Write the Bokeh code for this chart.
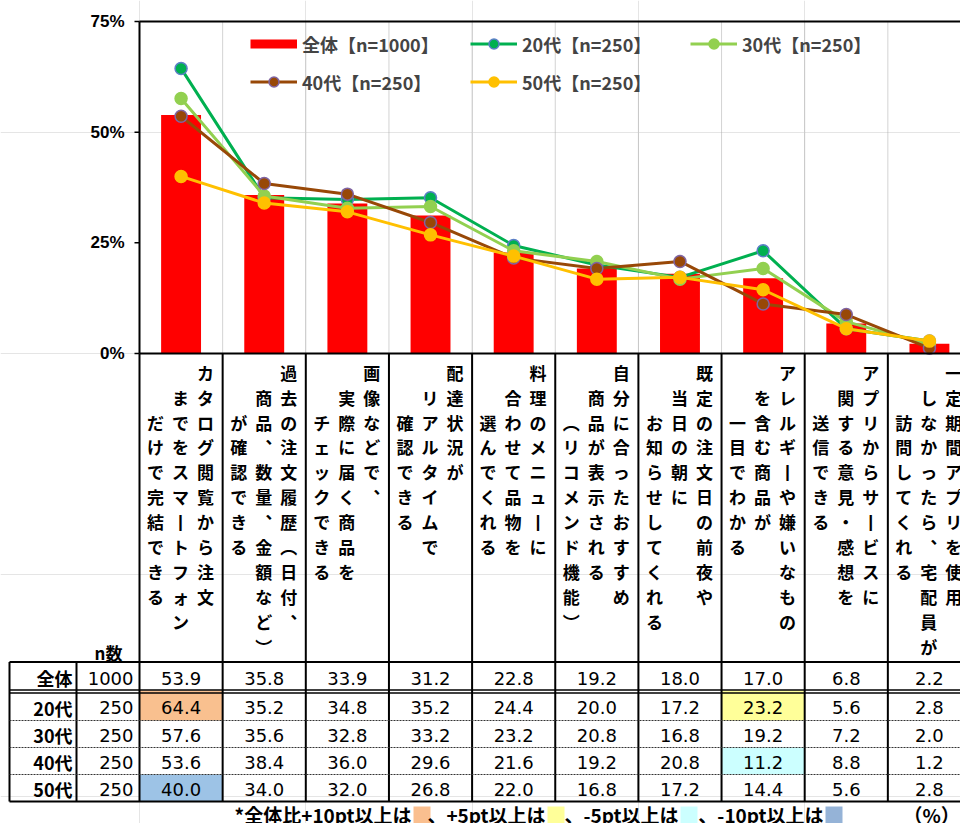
import numpy as np
from bokeh.plotting import figure
from bokeh.models import Range1d, Legend, LegendItem
from bokeh.core.properties import value
from bokeh.embed import file_html
from bokeh.resources import INLINE

# ---------------- data ----------------
# category labels, as they are broken into vertical columns (right to left)
label_columns = [
    ["カタログ閲覧から注文", "までをスマートフォン", "だけで完結できる"],
    ["過去の注文履歴（日付、", "商品、数量、金額など）", "が確認できる"],
    ["画像などで、", "実際に届く商品を", "チェックできる"],
    ["配達状況が", "リアルタイムで", "確認できる"],
    ["料理のメニューに", "合わせて品物を", "選んでくれる"],
    ["自分に合ったおすすめ", "商品が表示される", "（リコメンド機能）"],
    ["既定の注文日の前夜や", "当日の朝に", "お知らせしてくれる"],
    ["アレルギーや嫌いなもの", "を含む商品が", "一目でわかる"],
    ["アプリからサービスに", "関する意見・感想を", "送信できる"],
    ["一定期間アプリを使用", "しなかったら、宅配員が", "訪問してくれる"],
]
overall_name = "全体"
overall_n = 1000
overall = [53.9, 35.8, 33.9, 31.2, 22.8, 19.2, 18.0, 17.0, 6.8, 2.2]

group_names = ["20代", "30代", "40代", "50代"]
group_n = [250, 250, 250, 250]
age20 = [64.4, 35.2, 34.8, 35.2, 24.4, 20.0, 17.2, 23.2, 5.6, 2.8]
age30 = [57.6, 35.6, 32.8, 33.2, 23.2, 20.8, 16.8, 19.2, 7.2, 2.0]
age40 = [53.6, 38.4, 36.0, 29.6, 21.6, 19.2, 20.8, 11.2, 8.8, 1.2]
age50 = [40.0, 34.0, 32.0, 26.8, 22.0, 16.8, 17.2, 14.4, 5.6, 2.8]
group_values = [age20, age30, age40, age50]

y_ticks = [0, 25, 50, 75]
y_tick_labels = ["0%", "25%", "50%", "75%"]
n_header = "n数"
key_texts = ["*全体比+10pt以上は", "、+5pt以上は", "、-5pt以上は", "、-10pt以上は"]
key_thresholds = [10, 5, -5, -10]
unit_text = "（%）"

# ---------------- styles / layout ----------------
JP = "Noto Sans CJK JP"
NUM = "DejaVu Sans"
TICKF = "Liberation Sans"
BAR_COLOR = "#FF0000"
line_colors = ["#00B050", "#92D050", "#984807", "#FFC000"]
edge_colors = ["#5B7FC7", "#92D050", "#8064A2", "#FFC000"]
cell_colors = ["#F9C08F", "#FFFF99", "#CCFFFF", "#9DC3E6"]
key_colors = ["#FABF8F", "#FFFF99", "#CCFFFF", "#95B3D7"]

CW = 83.15            # category width (px)
X0 = 139              # page x of first category's left edge
Y0 = 353              # page y of the 0% line
PXP = 332 / 75        # px per percentage point
FIG_W, FIG_H = 960, 823

n_cat = len(overall)
xc = np.arange(n_cat) + 0.5


def ux(px):
    return (px - X0) / CW


def py(sy):
    return (Y0 - sy) / PXP


p = figure(width=FIG_W, height=FIG_H, x_range=Range1d(ux(0), ux(FIG_W)),
           y_range=Range1d(py(FIG_H), py(0)), output_backend="svg",
           toolbar_location=None, x_axis_location=None, y_axis_location=None,
           min_border_left=0, min_border_right=0, min_border_top=0,
           min_border_bottom=0, outline_line_color=None)

x_end = ux(980)
ymax = y_ticks[-1]

# ---- chart frame / axis ----
gx = np.arange(1, n_cat + 1)
p.segment(x0=gx, y0=[0] * len(gx), x1=gx, y1=[ymax] * len(gx),
          line_color="#A6A6A6", line_width=1, line_dash="1 1")
p.segment(x0=[0], y0=[ymax], x1=[x_end], y1=[ymax], line_color="black", line_width=2)
p.segment(x0=[0], y0=[0], x1=[0], y1=[ymax], line_color="black", line_width=2)
p.segment(x0=[ux(134)] * len(y_ticks), y0=y_ticks, x1=[0] * len(y_ticks), y1=y_ticks,
          line_color="black", line_width=1.5)
p.text(x=[ux(124)] * len(y_ticks), y=y_ticks, text=y_tick_labels, text_font=value(TICKF),
       text_font_size="17px", text_font_style="bold", text_align="right",
       text_baseline="middle", text_color="black")

# ---- bars and lines ----
p.vbar(x=xc, top=overall, width=0.48, fill_color=BAR_COLOR, line_color=None)
bar_proxy = p.line(x=np.array([np.nan]), y=np.array([np.nan]), line_color=BAR_COLOR,
                   line_width=9)

items = [LegendItem(label=value(f"{overall_name}【n={overall_n}】"), renderers=[bar_proxy])]
for name, n, vals, lc, ec in zip(group_names, group_n, group_values, line_colors, edge_colors):
    lr = p.line(xc, vals, line_color=lc, line_width=3)
    sr = p.scatter(xc, vals, size=12, fill_color=lc, line_color=ec, line_width=1.5)
    items.append(LegendItem(label=value(f"{name}【n={n}】"), renderers=[lr, sr]))

legend = Legend(items=items, location=(250, 728.5), orientation="horizontal", ncols=3,
                glyph_width=47, glyph_height=25, label_standoff=5, label_width=156,
                spacing=12, padding=0, margin=0, border_line_color=None,
                background_fill_alpha=0, label_text_font=JP,
                label_text_font_size="18px", label_text_font_style="bold")
p.add_layout(legend)

# ---- table geometry (page px) ----
TABLE_TOP = 661.5
ALL_BOT = 689.5
ROW_TOP = [692.5, 720, 747, 774]
ROW_BOT = [720, 747, 774, 801]
TABLE_BOT = 801

# highlight cells
ql, qr, qt, qb, qc = [], [], [], [], []
for r, vals in enumerate(group_values):
    for i, (v, o) in enumerate(zip(vals, overall)):
        d = round(v - o, 1)
        c = None
        if d >= key_thresholds[0]:
            c = cell_colors[0]
        elif d >= key_thresholds[1]:
            c = cell_colors[1]
        elif d <= key_thresholds[3]:
            c = cell_colors[3]
        elif d <= key_thresholds[2]:
            c = cell_colors[2]
        if c:
            ql.append(i); qr.append(i + 1)
            qt.append(py(ROW_TOP[r] - (2.5 if r == 0 else 0))); qb.append(py(ROW_BOT[r]))
            qc.append(c)
p.quad(left=ql, right=qr, top=qt, bottom=qb, fill_color=qc, line_color=None)

# vertical lines
bounds = np.arange(n_cat + 1)
p.segment(x0=bounds, y0=[0] * len(bounds), x1=bounds, y1=[py(TABLE_BOT)] * len(bounds),
          line_color="black", line_width=2)
p.segment(x0=[ux(9), ux(76)], y0=[py(TABLE_TOP)] * 2, x1=[ux(9), ux(76)],
          y1=[py(TABLE_BOT)] * 2, line_color="black", line_width=2)
# horizontal lines
hx0 = ux(9)
p.segment(x0=[0], y0=[0], x1=[x_end], y1=[0], line_color="black", line_width=2)
p.segment(x0=[hx0] * 2, y0=[py(TABLE_TOP), py(TABLE_BOT)], x1=[x_end] * 2,
          y1=[py(TABLE_TOP), py(TABLE_BOT)], line_color="black", line_width=2)
p.segment(x0=[hx0] * 2, y0=[py(ALL_BOT), py(ROW_TOP[0])], x1=[x_end] * 2,
          y1=[py(ALL_BOT), py(ROW_TOP[0])], line_color="black", line_width=1.5)
p.segment(x0=[hx0] * 3, y0=[py(b) for b in ROW_BOT[:3]], x1=[x_end] * 3,
          y1=[py(b) for b in ROW_BOT[:3]], line_color="#333333", line_width=1.2,
          line_dash="2 1")

# vertical category labels
VMAP = {"ー": "丨", "、": "︑", "（": "︵", "）": "︶"}
col_off = [66, 41, 16]
ROW0, STEP = 371.7, 24.9
vx, vy, vt = [], [], []
for i, cols in enumerate(label_columns):
    for k, s in enumerate(cols):
        for j, ch in enumerate(s):
            vx.append(i + col_off[k] / CW)
            vy.append(py(ROW0 + (k + j) * STEP))
            vt.append(VMAP.get(ch, ch))
p.text(x=vx, y=vy, text=vt, text_font=value(JP), text_font_size="17px",
       text_font_style="bold", text_align="center", text_baseline="middle",
       text_color="black")

p.text(x=[ux(108)], y=[py(652)], text=[n_header], text_font=value(JP),
       text_font_size="17px", text_font_style="bold", text_align="center",
       text_baseline="middle")

# table rows
row_names = [overall_name] + group_names
row_ns = [overall_n] + group_n
row_vals = [overall] + group_values
row_y = [py((TABLE_TOP + ALL_BOT) / 2 + 2)] + [py((t + b) / 2 + 1)
                                                for t, b in zip(ROW_TOP, ROW_BOT)]
p.text(x=[ux(72)] * len(row_names), y=row_y, text=row_names, text_font=value(JP),
       text_font_size="18px", text_font_style="bold", text_align="right",
       text_baseline="middle")
p.text(x=[ux(133)] * len(row_ns), y=row_y, text=[str(n) for n in row_ns],
       text_font=value(NUM), text_font_size="18px", text_align="right",
       text_baseline="middle")
tx, ty, tt = [], [], []
for vals, yy in zip(row_vals, row_y):
    for i, v in enumerate(vals):
        tx.append(i + 0.5); ty.append(yy); tt.append(f"{v:.1f}")
p.text(x=tx, y=ty, text=tt, text_font=value(NUM), text_font_size="18px",
       text_align="center", text_baseline="middle")

# footer key
key_left = [413, 547, 680, 825]
KEY_Y = py(814)
p.quad(left=[ux(k) for k in key_left], right=[ux(k + 17) for k in key_left],
       top=[py(806)] * 4, bottom=[py(830)] * 4, fill_color=key_colors, line_color=None)
p.text(x=[ux(k - 2) for k in key_left], y=[KEY_Y] * 4, text=key_texts, text_font=value(JP),
       text_font_size="19px", text_font_style="bold", text_align="right",
       text_baseline="middle")
p.text(x=[ux(903)], y=[KEY_Y], text=[unit_text], text_font=value(JP),
       text_font_size="19px", text_font_style="bold", text_align="left",
       text_baseline="middle")

open("out.html", "w").write(file_html(p, INLINE))
